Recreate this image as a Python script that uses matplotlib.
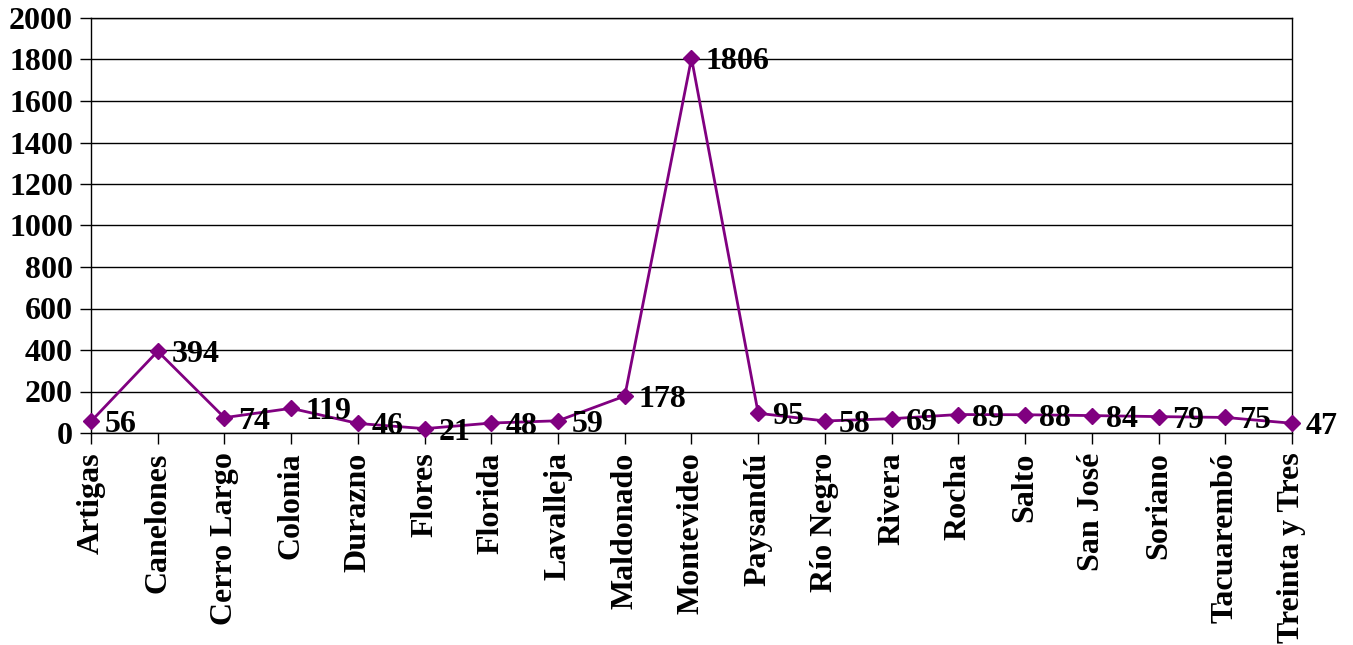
import matplotlib.pyplot as plt

departments = ["Artigas", "Canelones", "Cerro Largo", "Colonia", "Durazno",
               "Flores", "Florida", "Lavalleja", "Maldonado", "Montevideo",
               "Paysandú", "Río Negro", "Rivera", "Rocha", "Salto",
               "San José", "Soriano", "Tacuarembó", "Treinta y Tres"]
values = [56, 394, 74, 119, 46, 21, 48, 59, 178, 1806,
          95, 58, 69, 89, 88, 84, 79, 75, 47]
y_ticks = list(range(0, 2001, 200))

plt.rcParams["font.family"] = ["Liberation Serif", "DejaVu Serif"]
plt.rcParams["font.weight"] = "bold"

fig = plt.figure(figsize=(13.53, 6.45), dpi=100)
ax = fig.add_axes([91 / 1353, 1 - 433 / 645, (1292 - 91) / 1353, (433 - 18) / 645])

x = list(range(len(departments)))
ax.plot(x, values, color="#800080", linewidth=2, marker="D", markersize=8,
        zorder=3, clip_on=False)

for xi, v in zip(x, values):
    ax.annotate(str(v), (xi, v), xytext=(10, -2.5), textcoords="offset points",
                va="center", ha="left", fontsize=23, fontweight="bold",
                annotation_clip=False, zorder=4)

ax.set_xlim(0, len(departments) - 1)
ax.set_ylim(0, 2000)
ax.set_yticks(y_ticks)
ax.set_xticks(x)
ax.set_xticklabels(departments, rotation=90, fontsize=23, fontweight="bold")
ax.tick_params(axis="y", labelsize=23, length=8, width=1, direction="out", pad=5)
ax.tick_params(axis="x", length=8, width=1, direction="out", pad=6)
for lab in ax.get_yticklabels():
    lab.set_fontweight("bold")

ax.grid(True, axis="y", color="black", linewidth=1)
ax.set_axisbelow(True)
for s in ax.spines.values():
    s.set_linewidth(1)
    s.set_color("black")

fig.savefig("out.png", dpi=100)
